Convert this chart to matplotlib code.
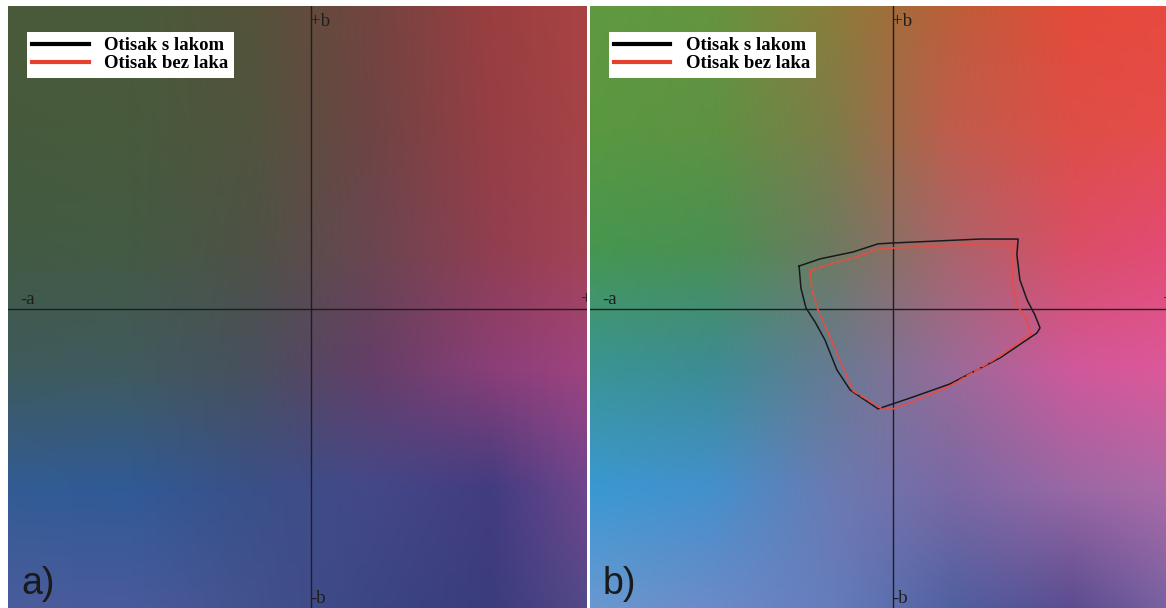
import matplotlib
matplotlib.use("Agg")
import matplotlib.pyplot as plt
from matplotlib.colors import to_rgb
from matplotlib.lines import Line2D
import numpy as np

# colour field sample grid (a* columns, b* rows)
grid_a = [-100, -60, -20, 20, 60, 100]
grid_b = [100, 60, 20, -20, -60, -100]

colors_a = [
    ['#4a5a3a', '#4a5a3a', '#54533a', '#724440', '#9a3e40', '#ac4444'],
    ['#465a3c', '#485a3c', '#50543e', '#6e4444', '#963e44', '#aa4448'],
    ['#425a44', '#445a44', '#4e5246', '#6a4650', '#903e50', '#a84454'],
    ['#3e5a5c', '#405a5e', '#48505e', '#643e68', '#8a3e78', '#a44482'],
    ['#325c94', '#305a96', '#3a5088', '#444888', '#423c80', '#7a4890'],
    ['#4a5c9c', '#4a5a9c', '#42528e', '#3c4684', '#3a3c7c', '#5a4c8a'],
]

colors_b = [
    ['#5e9a42', '#659440', '#8a7c3c', '#bc5e3a', '#e44a3a', '#e84a40'],
    ['#5a9840', '#5e9242', '#7e7c48', '#c05c4c', '#de4e46', '#e84c4c'],
    ['#469650', '#4a9052', '#6e7a60', '#aa646a', '#da4e66', '#e64a78'],
    ['#3a9494', '#3c8c94', '#667a92', '#9a6a98', '#d0589a', '#e0589a'],
    ['#3a98d2', '#4490cc', '#6a7ab2', '#7a68a4', '#9a68a4', '#b06aa8'],
    ['#6a98d0', '#6c8ac8', '#667cbc', '#5060a0', '#5a4c90', '#8068a6'],
]

# gamut outlines (a*, b*)
lak_a = [-31.3, -24.3, -13.3, -5.0, 0.0, 15.7, 29.0, 41.7, 41.3, 42.3, 44.7, 47.3,
         49.0, 48.0, 35.7, 19.0, 5.7, -5.0, -14.3, -18.7, -22.7, -26.0, -29.0, -30.7, -31.3]
lak_b = [14.3, 16.7, 19.0, 21.7, 22.0, 22.7, 23.3, 23.3, 18.0, 9.7, 3.0, -2.0,
         -6.3, -8.0, -16.3, -25.0, -29.7, -33.3, -27.0, -20.3, -10.3, -4.3, 0.3, 7.0, 14.3]

bez_a = [-27.7, -20.0, -12.0, -5.3, 0.0, 15.7, 29.0, 39.7, 40.0, 40.0, 41.3, 44.3,
         46.0, 35.7, 19.0, 5.7, 0.0, -3.7, -13.3, -17.7, -22.0, -25.0, -27.0, -27.7]
bez_b = [12.7, 15.3, 17.3, 20.0, 20.3, 21.0, 21.7, 21.7, 16.3, 8.0, 1.3, -3.0,
         -8.3, -15.7, -25.7, -31.3, -33.3, -33.3, -27.3, -17.0, -7.0, -0.3, 6.3, 12.7]

labels = ['Otisak s lakom', 'Otisak bez laka']

W, H = 1166, 608
fig = plt.figure(figsize=(W / 100, H / 100), dpi=100)
fig.patch.set_facecolor('white')

panels = [
    (8, 579, colors_a, 'a)', False),
    (590, 576, colors_b, 'b)', True),
]

da = grid_a[1] - grid_a[0]
db = grid_b[0] - grid_b[1]
ext = [grid_a[0] - da / 2, grid_a[-1] + da / 2, grid_b[-1] - db / 2, grid_b[0] + db / 2]

serif = ['Liberation Serif', 'DejaVu Serif']

for left, width, cols, tag, outlines in panels:
    ax = fig.add_axes([left / W, 0, width / W, 602 / H])
    ax.set_axis_off()
    rgb = np.array([[to_rgb(c) for c in row] for row in cols])
    ax.imshow(rgb, extent=ext, interpolation='bilinear', aspect='auto', zorder=0)
    ax.set_xlim(-101, -101 + width / 3.0)
    ax.set_ylim(-99.7, 101)

    ax.axhline(0, color='#1e1e1e', lw=1.0, zorder=2)
    ax.axvline(0, color='#1e1e1e', lw=1.0, zorder=2)

    ax.text(-0.4, 94.3, '+b', fontsize=13.5, family=serif, color='#1e1e1e', va='baseline', ha='left')
    ax.text(-0.4, -98.0, '-b', fontsize=13.5, family=serif, color='#1e1e1e', va='baseline', ha='left')
    ax.text(-97, 1.5, '-a', fontsize=13.5, family=serif, color='#1e1e1e', va='baseline', ha='left')
    ax.text(90, 1.5, '+a', fontsize=13.5, family=serif, color='#1e1e1e', va='baseline', ha='left',
            clip_on=True)

    if outlines:
        ax.plot(lak_a, lak_b, color='#1a1a1a', lw=1.1, zorder=3)
        ax.plot(bez_a + bez_a[:1], bez_b + bez_b[:1], color='#ec4a40', lw=1.3,
                ls=(0, (4, 1)), zorder=3)

    handles = [Line2D([], [], color='black', lw=3),
               Line2D([], [], color='#e8402e', lw=3)]
    leg = ax.legend(handles, labels, loc='upper left',
                    bbox_to_anchor=((left + 19) / W, 1 - 32 / H),
                    bbox_transform=fig.transFigure, borderaxespad=0,
                    prop={'family': serif, 'weight': 'bold', 'size': 13.5},
                    handlelength=3.0, handletextpad=0.85, borderpad=0.28,
                    labelspacing=0.05, fancybox=False, framealpha=1,
                    edgecolor='white', facecolor='white')
    leg.get_frame().set_linewidth(0)

    fig.text((left + 13) / W, 1 - 594 / H, tag, fontsize=27,
             family=['Liberation Sans', 'DejaVu Sans'], color='#1a1a1a', va='baseline')

fig.savefig('out.png', dpi=100, facecolor='white')
